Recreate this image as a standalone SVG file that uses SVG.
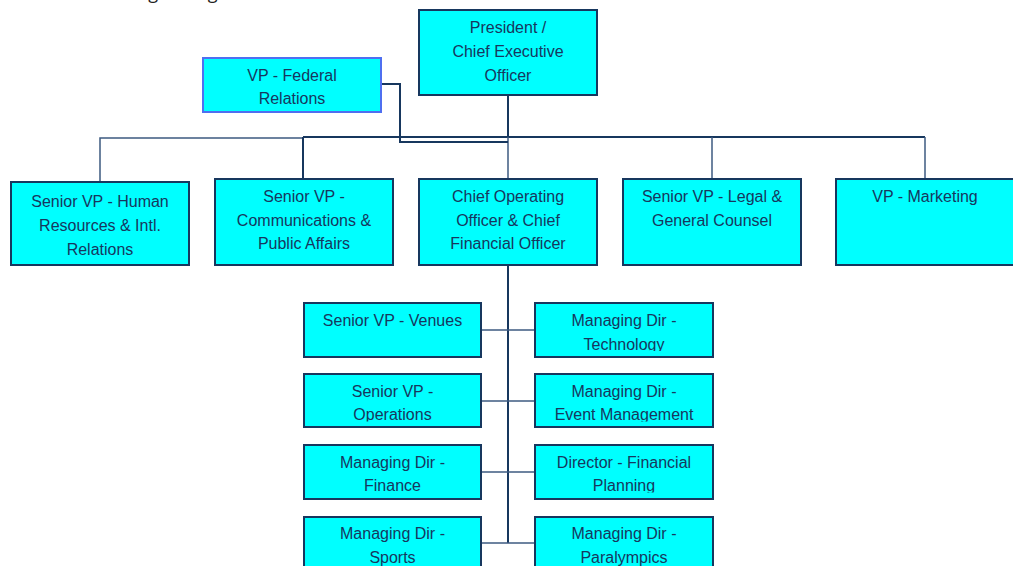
<svg xmlns="http://www.w3.org/2000/svg" width="1013" height="566" viewBox="0 0 1013 566">
<style>
.box{fill:#00FFFF;stroke:#17375E;stroke-width:2}
.fed{fill:#00FFFF;stroke:#4F6FF0;stroke-width:2}
text{font-family:"Liberation Sans",Arial,sans-serif;font-size:16px;fill:#17375E;text-anchor:middle}
.ln{fill:none;stroke:#17375E;stroke-width:2}
.lt{fill:none;stroke:#3C5A80;stroke-width:1.5}
.title{font-family:"Open Sans",sans-serif;font-size:18px;fill:#222;text-anchor:start}
</style>
<defs>
<clipPath id="c1"><rect x="304" y="300" width="410" height="51"/></clipPath>
<clipPath id="c2"><rect x="304" y="371" width="410" height="50.5"/></clipPath>
<clipPath id="c3"><rect x="304" y="442" width="410" height="50.5"/></clipPath>
</defs>
<rect width="1013" height="566" fill="#fff"/>
<text class="title" x="127" y="-1">Organizing</text>
<g id="connectors">
<polyline class="lt" points="100,182 100,138 303,138"/>
<line class="ln" x1="303" y1="137" x2="925" y2="137"/>
<line class="ln" x1="303" y1="137" x2="303" y2="179"/>
<line class="ln" x1="508" y1="95" x2="508" y2="137"/>
<line class="lt" x1="508" y1="137" x2="508" y2="179"/>
<line class="lt" x1="712" y1="137" x2="712" y2="179"/>
<line class="lt" x1="925" y1="137" x2="925" y2="179"/>
<polyline class="ln" points="381,84 400,84 400,142 508,142"/>
<line class="ln" x1="508" y1="265" x2="508" y2="543" stroke-width="2.5"/>
<line class="lt" x1="481" y1="330" x2="535" y2="330"/>
<line class="lt" x1="481" y1="401" x2="535" y2="401"/>
<line class="lt" x1="481" y1="472" x2="535" y2="472"/>
<line class="lt" x1="481" y1="543" x2="535" y2="543"/>
</g>
<g id="ceo"><rect class="box" x="419" y="10" width="178" height="85"/>
<text x="508" y="32.5">President /</text><text x="508" y="56.5">Chief Executive</text><text x="508" y="80.5">Officer</text></g>
<g id="fed"><rect class="fed" x="203" y="58" width="178" height="54"/>
<text x="292" y="80.5">VP - Federal</text><text x="292" y="104">Relations</text></g>
<g id="hr"><rect class="box" x="11" y="182" width="178" height="83"/>
<text x="100" y="206.5">Senior VP - Human</text><text x="100" y="230.5">Resources &amp; Intl.</text><text x="100" y="254.5">Relations</text></g>
<g id="comm"><rect class="box" x="215" y="179" width="178" height="86"/>
<text x="304" y="202">Senior VP -</text><text x="304" y="225.5">Communications &amp;</text><text x="304" y="249">Public Affairs</text></g>
<g id="coo"><rect class="box" x="419" y="179" width="178" height="86"/>
<text x="508" y="202">Chief Operating</text><text x="508" y="225.5">Officer &amp; Chief</text><text x="508" y="249">Financial Officer</text></g>
<g id="legal"><rect class="box" x="623" y="179" width="178" height="86"/>
<text x="712" y="202">Senior VP - Legal &amp;</text><text x="712" y="225.5">General Counsel</text></g>
<g id="mkt"><rect class="box" x="836" y="179" width="180" height="86"/>
<text x="925" y="202">VP - Marketing</text></g>
<g id="venues"><rect class="box" x="304" y="303" width="177" height="54"/>
<text x="392.5" y="326">Senior VP - Venues</text></g>
<g id="tech"><rect class="box" x="535" y="303" width="178" height="54"/>
<g clip-path="url(#c1)"><text x="624" y="326">Managing Dir -</text><text x="624" y="350">Technology</text></g></g>
<g id="ops"><rect class="box" x="304" y="374" width="177" height="53"/>
<g clip-path="url(#c2)"><text x="392.5" y="397">Senior VP -</text><text x="392.5" y="420">Operations</text></g></g>
<g id="event"><rect class="box" x="535" y="374" width="178" height="53"/>
<g clip-path="url(#c2)"><text x="624" y="397">Managing Dir -</text><text x="624" y="420">Event Management</text></g></g>
<g id="finance"><rect class="box" x="304" y="445" width="177" height="54"/>
<g clip-path="url(#c3)"><text x="392.5" y="468">Managing Dir -</text><text x="392.5" y="491">Finance</text></g></g>
<g id="planning"><rect class="box" x="535" y="445" width="178" height="54"/>
<g clip-path="url(#c3)"><text x="624" y="468">Director - Financial</text><text x="624" y="491">Planning</text></g></g>
<g id="sports"><rect class="box" x="304" y="517" width="177" height="60"/>
<text x="392.5" y="539">Managing Dir -</text><text x="392.5" y="563">Sports</text></g>
<g id="para"><rect class="box" x="535" y="517" width="178" height="60"/>
<text x="624" y="539">Managing Dir -</text><text x="624" y="563">Paralympics</text></g>
</svg>
